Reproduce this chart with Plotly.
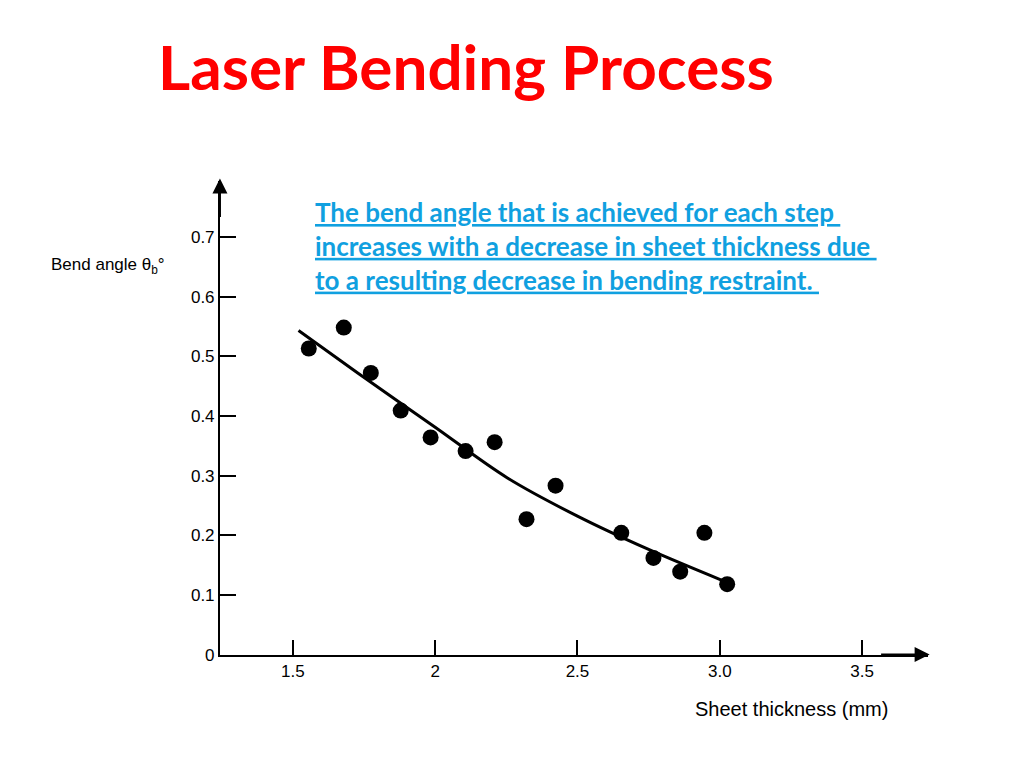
import plotly.graph_objects as go

# measured points
thickness = [1.556, 1.679, 1.774, 1.879, 1.984, 2.107, 2.209, 2.321, 2.423, 2.654, 2.767, 2.861, 2.946, 3.026]
bend_angle = [0.513, 0.548, 0.472, 0.409, 0.364, 0.341, 0.356, 0.227, 0.283, 0.204, 0.162, 0.139, 0.204, 0.118]

# fitted trend line
fit_x = [1.52, 1.728, 2.0, 2.254, 2.5, 2.746, 3.01]
fit_y = [0.543, 0.472, 0.381, 0.296, 0.232, 0.177, 0.124]

x_ticks = [1.5, 2, 2.5, 3.0, 3.5]
x_tick_text = ["1.5", "2", "2.5", "3.0", "3.5"]
y_ticks = [0, 0.1, 0.2, 0.3, 0.4, 0.5, 0.6, 0.7]
y_tick_text = ["0", "0.1", "0.2", "0.3", "0.4", "0.5", "0.6", "0.7"]

fig = go.Figure()
fig.add_trace(go.Scatter(x=fit_x, y=fit_y, mode="lines", line=dict(color="black", width=3, shape="spline"),
                         hoverinfo="skip"))
fig.add_trace(go.Scatter(x=thickness, y=bend_angle, mode="markers", marker=dict(color="black", size=16)))

axis_font = dict(family="Liberation Sans", size=17, color="black")
fig.update_layout(
    width=1024, height=768, showlegend=False,
    paper_bgcolor="white", plot_bgcolor="white",
    margin=dict(l=0, r=0, t=0, b=0),
    xaxis=dict(domain=[0.207, 0.898], range=[1.244, 3.73], showgrid=False, zeroline=False,
               showline=True, linecolor="black", linewidth=2, ticks="inside", ticklen=15,
               tickwidth=2, tickcolor="black", tickvals=x_ticks, ticktext=x_tick_text,
               tickfont=axis_font),
    yaxis=dict(domain=[0.147, 0.772], range=[0, 0.794], showgrid=False, zeroline=False,
               showline=True, linecolor="black", linewidth=2, ticks="inside", ticklen=16,
               tickwidth=2, tickcolor="black", tickvals=y_ticks, ticktext=y_tick_text,
               tickfont=axis_font),
    annotations=[
        dict(text="<b>Laser Bending Process</b>", x=0.145, y=0.975, xref="paper", yref="paper",
             xanchor="left", yanchor="top", showarrow=False,
             font=dict(family="Lato", size=62, color="#ff0000")),
        dict(text="<b><u>The bend angle that is achieved for each step </u></b><br>"
                  "<b><u>increases with a decrease in sheet thickness due </u></b><br>"
                  "<b><u>to a resulting decrease in bending restraint. </u></b>",
             x=0.298, y=0.755, xref="paper", yref="paper", xanchor="left", yanchor="top",
             align="left", showarrow=False,
             font=dict(family="Lato", size=26, color="#10a0e0")),
        dict(text="Bend angle θ<sub>b</sub>°", x=0.155, y=0.66, xref="paper", yref="paper",
             xanchor="right", yanchor="middle", showarrow=False, font=axis_font),
        dict(text="Sheet thickness (mm)", x=0.765, y=0.075, xref="paper", yref="paper",
             xanchor="center", yanchor="middle", showarrow=False,
             font=dict(family="Liberation Sans", size=20, color="black")),
        dict(x=0.207, y=0.775, ax=0, ay=40, xref="paper", yref="paper", axref="pixel", ayref="pixel",
             showarrow=True, arrowhead=2, arrowsize=1.5, arrowwidth=2, arrowcolor="black", text=""),
        dict(x=0.9, y=0.147, ax=-50, ay=0, xref="paper", yref="paper", axref="pixel", ayref="pixel",
             showarrow=True, arrowhead=2, arrowsize=1.5, arrowwidth=2, arrowcolor="black", text=""),
    ],
)
fig.write_html("out.html")
